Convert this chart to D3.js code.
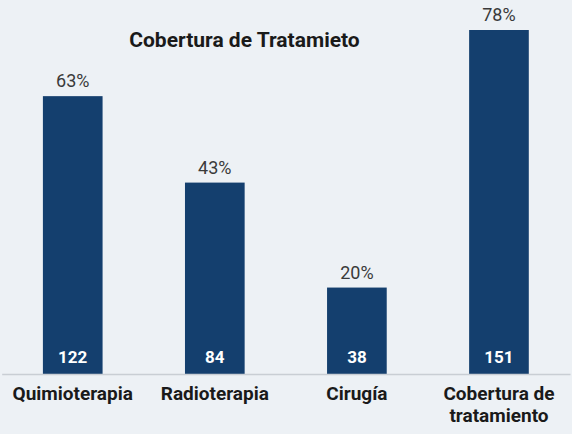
<!DOCTYPE html>
<html>
<head>
<meta charset="utf-8">
<script src="https://cdn.jsdelivr.net/npm/d3@7"></script>
<style>
  body { margin: 0; background: #edf1f5; }
  svg { display: block; font-family: Roboto, "Noto Sans", sans-serif; }
</style>
</head>
<body>
<svg id="barChart"></svg>
<script>
// chart data
const categories = ["Quimioterapia", "Radioterapia", "Cirugía", "Cobertura de tratamiento"];
const coverage = [63, 43.4, 19.6, 78];      // % (bar height)
const pctLabels = ["63%", "43%", "20%", "78%"];
const counts = [122, 84, 38, 151];
const title = "Cobertura de Tratamieto";

const W = 572, H = 434;
const baseY = 374, topY = 30;

const svg = d3.select("#barChart")
              .attr("width", W)
              .attr("height", H);

svg.append("rect")
   .attr("width", W).attr("height", H)
   .attr("fill", "#edf1f5");

const x = d3.scaleBand()
            .domain(categories)
            .range([1.7, 570])
            .paddingInner(0.58)
            .paddingOuter(0.29);

const y = d3.scaleLinear()
            .domain([0, d3.max(coverage)])
            .range([baseY, topY]);

const rows = categories.map((c, i) => ({ cat: c, pct: coverage[i], lab: pctLabels[i], n: counts[i] }));

// bars
svg.selectAll(".bar")
   .data(rows)
   .enter().append("rect")
   .attr("class", "bar")
   .attr("x", d => x(d.cat))
   .attr("y", d => y(d.pct))
   .attr("width", x.bandwidth())
   .attr("height", d => baseY - y(d.pct))
   .attr("fill", "#143f6e");

// percent above bars
svg.selectAll(".pct")
   .data(rows)
   .enter().append("text")
   .attr("class", "pct")
   .attr("x", d => x(d.cat) + x.bandwidth() / 2)
   .attr("y", d => y(d.pct) - 9)
   .attr("text-anchor", "middle")
   .style("font-size", "18px")
   .style("fill", "#3a3a3a")
   .text(d => d.lab);

// counts inside bars
svg.selectAll(".count")
   .data(rows)
   .enter().append("text")
   .attr("class", "count")
   .attr("x", d => x(d.cat) + x.bandwidth() / 2)
   .attr("y", baseY - 11)
   .attr("text-anchor", "middle")
   .style("font-size", "17px")
   .style("font-weight", "bold")
   .style("fill", "#ffffff")
   .text(d => d.n);

// x axis
const axis = svg.append("g")
   .attr("transform", `translate(0, ${baseY})`)
   .call(d3.axisBottom(x).tickSize(0).tickSizeOuter(0).tickPadding(0));

axis.select(".domain")
    .attr("stroke", "#c9ced4")
    .attr("stroke-width", 1.5);

axis.selectAll(".tick text")
    .style("font-family", "Roboto, sans-serif")
    .style("font-size", "19px")
    .style("font-weight", "bold")
    .style("fill", "#1a1a1a")
    .each(function(d) {
        const t = d3.select(this);
        const words = d.split(" ");
        const lines = words.length > 2 ? [words.slice(0, 2).join(" "), words.slice(2).join(" ")] : [d];
        t.text(null).attr("y", 0).attr("dy", null);
        lines.forEach((ln, i) => {
            t.append("tspan")
             .attr("x", 0)
             .attr("y", 26 + i * 22)
             .text(ln);
        });
    });

// title
svg.append("text")
   .attr("x", 244.5)
   .attr("y", 47)
   .attr("text-anchor", "middle")
   .style("font-size", "21px")
   .style("font-weight", "bold")
   .style("fill", "#1a1a1a")
   .text(title);
</script>
</body>
</html>
